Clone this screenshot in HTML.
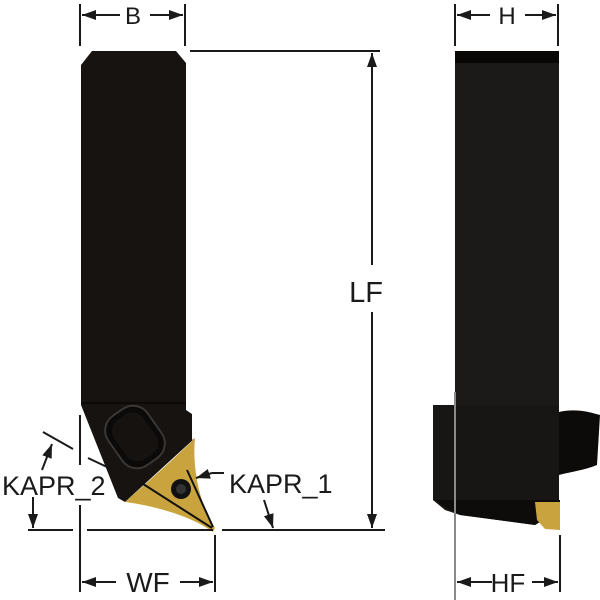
<!DOCTYPE html>
<html><head><style>html,body{margin:0;padding:0;background:#fff}svg{display:block}text{font-family:"Liberation Sans",sans-serif;fill:#1a1a1a}</style></head>
<body>
<svg width="600" height="600" viewBox="0 0 600 600" xmlns="http://www.w3.org/2000/svg">
<defs>
<marker id="a" markerWidth="14" markerHeight="10" refX="14" refY="5" orient="auto" markerUnits="userSpaceOnUse"><path d="M0,0 L14,5 L0,10 Z" fill="#1a1a1a"/></marker>
</defs>
<path d="M81,65 L92,51 L176,51 L186,63 L186,410 L192,414 L192,440 L195,438 L125,502 L118,498 L81,405 Z" fill="#161311"/>
<line x1="81" y1="403" x2="186" y2="403" stroke="#000" stroke-width="1"/>
<path d="M195,438 C192,470 200,505 215,528 L213,532 C190,515 150,505 125,502 C150,480 175,458 195,438 Z" fill="#c9a43e"/>
<line x1="140" y1="482" x2="212" y2="528" stroke="#111" stroke-width="2"/>
<line x1="187" y1="470" x2="213" y2="527" stroke="#111" stroke-width="2"/>
<circle cx="181" cy="489" r="10" fill="#111"/>
<circle cx="181" cy="489" r="5" fill="#333"/>
<g transform="translate(135,437) rotate(-35)">
<rect x="-24" y="-30" width="48" height="60" rx="18" fill="#0c0a09" stroke="#3a3633" stroke-width="2"/>
<rect x="-18" y="-24" width="36" height="48" rx="14" fill="#151210"/>
</g>
<g stroke="#1a1a1a" stroke-width="2">
<line x1="80" y1="4" x2="80" y2="46"/><line x1="185" y1="4" x2="185" y2="46"/>
<line x1="120" y1="15" x2="82" y2="15" marker-end="url(#a)"/><line x1="150" y1="15" x2="183" y2="15" marker-end="url(#a)"/>
<line x1="190" y1="51" x2="380" y2="51"/>
<line x1="222" y1="530" x2="385" y2="530"/>
<line x1="372" y1="265" x2="372" y2="53" marker-end="url(#a)"/>
<line x1="372" y1="312" x2="372" y2="528" marker-end="url(#a)"/>
<line x1="28" y1="530" x2="73" y2="530"/><line x1="87" y1="530" x2="213" y2="530"/>
<line x1="80" y1="415" x2="80" y2="465"/><line x1="80" y1="505" x2="80" y2="592"/>
<line x1="215" y1="535" x2="215" y2="592"/>
<line x1="116" y1="582" x2="82" y2="582" marker-end="url(#a)"/><line x1="180" y1="582" x2="213" y2="582" marker-end="url(#a)"/>
<line x1="43" y1="432" x2="73" y2="449"/>
<line x1="88" y1="458" x2="107" y2="467"/>
<line x1="42" y1="470" x2="52" y2="444" marker-end="url(#a)"/>
<line x1="33" y1="497" x2="33" y2="528" marker-end="url(#a)"/>
<line x1="224" y1="473" x2="212" y2="473"/>
<line x1="212" y1="473" x2="196" y2="478" marker-end="url(#a)"/>
<line x1="264" y1="500" x2="273" y2="528" marker-end="url(#a)"/>
<line x1="455" y1="4" x2="455" y2="46"/><line x1="558" y1="4" x2="558" y2="46"/>
<line x1="490" y1="15" x2="457" y2="15" marker-end="url(#a)"/><line x1="525" y1="15" x2="556" y2="15" marker-end="url(#a)"/>
<line x1="560" y1="535" x2="560" y2="592"/>
<line x1="492" y1="582" x2="457" y2="582" marker-end="url(#a)"/><line x1="532" y1="582" x2="558" y2="582" marker-end="url(#a)"/>
</g>
<rect x="455" y="51" width="104" height="360" fill="#1c1a18"/>
<rect x="455" y="51" width="104" height="12" fill="#080706"/>
<path d="M433,405 L559,405 L559,510 L535,525 L460,515 L445,510 L433,500 Z" fill="#181614"/>
<path d="M433,500 L560,500 L560,510 L535,525 L460,515 Z" fill="#0e0c0b"/>
<path d="M559,412 C575,408 590,412 600,415 L597,465 C585,470 570,472 559,475 Z" fill="#0d0b0a"/>
<path d="M535,502 L560,502 L560,530 L545,529 L537,520 Z" fill="#c9a43e"/>
<line x1="455" y1="392" x2="455" y2="600" stroke="#8a8a8a" stroke-width="2"/>
<text x="133" y="24" font-size="24" text-anchor="middle">B</text>
<text x="507" y="24" font-size="24" text-anchor="middle">H</text>
<text x="366" y="302" font-size="29" text-anchor="middle">LF</text>
<text x="148" y="592" font-size="28" text-anchor="middle">WF</text>
<text x="508" y="592" font-size="26" text-anchor="middle">HF</text>
<text x="2" y="495" font-size="27">KAPR_2</text>
<text x="229" y="493" font-size="27">KAPR_1</text>
</svg>
</body></html>
